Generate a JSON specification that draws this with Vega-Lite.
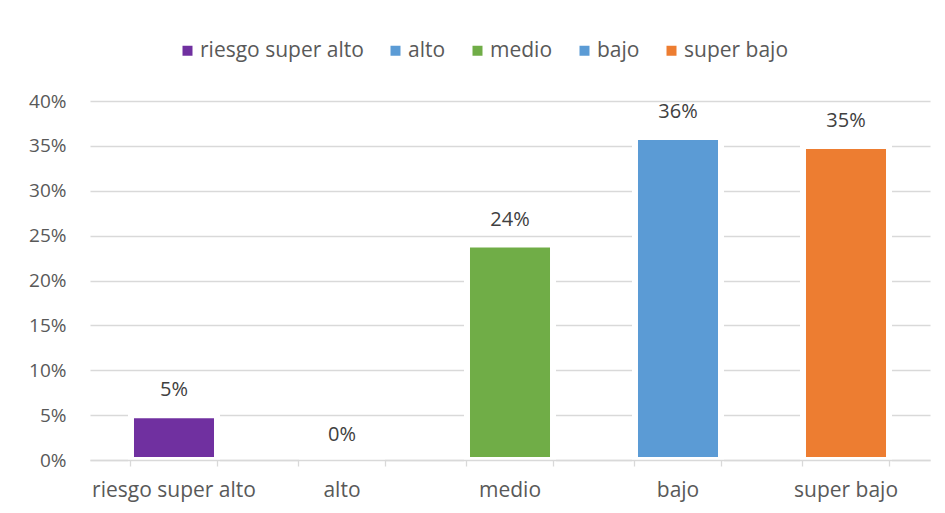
{
  "$schema": "https://vega.github.io/schema/vega-lite/v6.json",
  "width": 840,
  "height": 359,
  "autosize": {"type": "none"},
  "padding": {"left": 90, "top": 101, "right": 15, "bottom": 53},
  "background": "white",
  "config": {
    "view": {"stroke": null},
    "font": "Open Sans",
    "axis": {"labelFont": "Open Sans", "labelFontSize": 19, "labelColor": "#595959"},
    "legend": {"labelFont": "Open Sans", "labelFontSize": 21, "labelColor": "#595959"}
  },
  "data": {
    "values": [
      {"cat": "riesgo super alto", "val": 0.05},
      {"cat": "alto", "val": 0.0},
      {"cat": "medio", "val": 0.24},
      {"cat": "bajo", "val": 0.36},
      {"cat": "super bajo", "val": 0.35}
    ]
  },
  "resolve": {"axis": {"x": "independent"}},
  "layer": [
    {
      "mark": {"type": "bar", "stroke": "white", "strokeWidth": 6},
      "encoding": {
        "x": {
          "field": "cat", "type": "nominal", "sort": null,
          "scale": {"paddingInner": 0.488, "paddingOuter": 0.244},
          "axis": {"title": null, "orient": "bottom", "labelAngle": 0, "labelFontSize": 21, "ticks": false, "domain": true, "domainColor": "#D9D9D9", "domainWidth": 1.3, "labelPadding": 19, "zindex": 1, "grid": false}
        },
        "y": {
          "field": "val", "type": "quantitative",
          "scale": {"domain": [0, 0.4], "nice": false},
          "axis": {"title": null, "format": ".0%", "values": [0, 0.05, 0.1, 0.15, 0.2, 0.25, 0.3, 0.35, 0.4], "domain": false, "ticks": false, "labelPadding": 24, "grid": true, "gridColor": "#D9D9D9", "gridWidth": 1.3, "zindex": 0}
        },
        "color": {
          "field": "cat", "type": "nominal", "sort": null,
          "scale": {
            "domain": ["riesgo super alto", "alto", "medio", "bajo", "super bajo"],
            "range": ["#7030A0", "#5B9BD5", "#70AD47", "#5B9BD5", "#ED7D31"]
          },
          "legend": {
            "title": null, "orient": "none", "direction": "horizontal",
            "legendX": 87, "legendY": -61,
            "symbolType": "square", "symbolSize": 100, "symbolStrokeWidth": 0,
            "labelOffset": 2, "columnPadding": 21, "labelLimit": 400
          }
        }
      }
    },
    {
      "mark": {"type": "text", "baseline": "middle", "dy": -25, "fontSize": 20, "font": "Open Sans", "color": "#404040"},
      "encoding": {
        "x": {
          "field": "cat", "type": "nominal", "sort": null,
          "axis": {"title": null, "orient": "bottom", "labels": false, "domain": false, "ticks": true, "tickSize": 6, "tickColor": "#D9D9D9", "tickWidth": 1.3, "bandPosition": 0, "zindex": 1, "grid": false}
        },
        "y": {"field": "val", "type": "quantitative"},
        "text": {"field": "val", "type": "quantitative", "format": ".0%"}
      }
    },
    {
      "mark": {"type": "text", "text": ""},
      "encoding": {
        "x": {
          "field": "cat", "type": "nominal", "sort": null,
          "axis": {"title": null, "orient": "bottom", "labels": false, "domain": false, "ticks": true, "tickSize": 6, "tickColor": "#D9D9D9", "tickWidth": 1.3, "bandPosition": 1, "zindex": 1, "grid": false}
        },
        "y": {"field": "val", "type": "quantitative"}
      }
    }
  ]
}
